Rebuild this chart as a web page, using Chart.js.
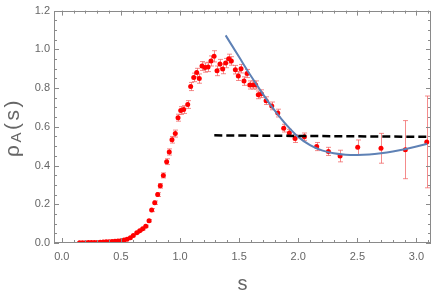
<!DOCTYPE html>
<html>
<head>
<meta charset="utf-8">
<script src="https://cdn.jsdelivr.net/npm/chart.js@4"></script>
<style>
html,body{margin:0;padding:0;background:#fff;}
#wrap{width:436px;height:298px;position:relative;}
</style>
</head>
<body>
<div id="wrap"><canvas id="c" width="436" height="298"></canvas></div>
<script>
// ---- data ----
const sVals = [0.15,0.175,0.2,0.225,0.25,0.275,0.3,0.325,0.35,0.375,0.4,0.425,0.45,0.475,0.5,0.527,0.552,0.58,0.605,0.634,0.659,0.684,0.71,0.738,0.76,0.786,0.811,0.833,0.859,0.887,0.909,0.932,0.96,0.983,1.006,1.031,1.065,1.09,1.116,1.141,1.163,1.186,1.211,1.237,1.262,1.288,1.313,1.338,1.361,1.386,1.412,1.434,1.468,1.493,1.516,1.541,1.567,1.59,1.615,1.64,1.662,1.688,1.728,1.776,1.827,1.877,1.925,1.973,2.052,2.156,2.255,2.354,2.503,2.7,2.906,3.087];
const rhoVals = [0.001,0.001,0.001,0.002,0.002,0.003,0.003,0.004,0.005,0.006,0.007,0.008,0.009,0.010,0.012,0.016,0.020,0.027,0.039,0.053,0.063,0.073,0.087,0.115,0.170,0.208,0.250,0.295,0.349,0.420,0.470,0.533,0.565,0.647,0.684,0.689,0.715,0.808,0.855,0.880,0.849,0.914,0.906,0.909,0.940,0.964,0.889,0.924,0.899,0.929,0.952,0.940,0.895,0.862,0.900,0.836,0.875,0.816,0.816,0.816,0.765,0.771,0.735,0.708,0.671,0.593,0.568,0.539,0.549,0.498,0.473,0.449,0.494,0.489,0.482,0.522];
const rhoErr = [0.001,0.001,0.001,0.001,0.001,0.001,0.001,0.001,0.001,0.001,0.001,0.001,0.001,0.002,0.002,0.002,0.002,0.003,0.003,0.004,0.004,0.005,0.005,0.006,0.008,0.009,0.010,0.012,0.013,0.015,0.016,0.017,0.018,0.018,0.020,0.020,0.020,0.021,0.022,0.022,0.024,0.023,0.024,0.024,0.026,0.029,0.025,0.024,0.025,0.024,0.023,0.022,0.022,0.023,0.022,0.022,0.021,0.021,0.021,0.021,0.020,0.020,0.020,0.020,0.020,0.020,0.019,0.020,0.019,0.021,0.021,0.030,0.038,0.077,0.150,0.237];
const fitS = [1.386,1.5,1.6,1.7,1.8,1.9,2.0,2.1,2.2,2.3,2.4,2.5,2.6,2.7,2.8,2.9,3.0,3.09];
const fitRho = [1.072,0.960,0.862,0.770,0.685,0.610,0.548,0.505,0.478,0.463,0.456,0.455,0.457,0.463,0.472,0.484,0.498,0.512];
const constS = [1.29,3.123];
const constRho = [0.556,0.548];
const xTicks = [0,0.5,1.0,1.5,2.0,2.5,3.0];
const yTicks = [0,0.2,0.4,0.6,0.8,1.0,1.2];

const pts = sVals.map((s,i)=>({x:s,y:rhoVals[i]}));
const fitPts = fitS.map((s,i)=>({x:s,y:fitRho[i]}));
const constPts = constS.map((s,i)=>({x:s,y:constRho[i]}));

const FRAME = '#8a8a8a';
const TXT = '#666666';

const errPlugin = {
  id:'errbars',
  beforeDatasetsDraw(chart){
    const {ctx, scales:{x,y}} = chart;
    ctx.save();
    ctx.beginPath();
    ctx.rect(chart.chartArea.left, chart.chartArea.top, chart.chartArea.right-chart.chartArea.left, chart.chartArea.bottom-chart.chartArea.top);
    ctx.clip();
    ctx.strokeStyle = 'rgba(240,90,90,0.7)';
    ctx.lineWidth = 1;
    sVals.forEach((s,i)=>{
      const e = rhoErr[i];
      if (e < 0.004) return;
      const px = Math.round(x.getPixelForValue(s))+0.5;
      const y1 = y.getPixelForValue(rhoVals[i]-e);
      const y2 = y.getPixelForValue(rhoVals[i]+e);
      ctx.beginPath();
      ctx.moveTo(px,y1); ctx.lineTo(px,y2);
      ctx.moveTo(px-2.5,y1); ctx.lineTo(px+2.5,y1);
      ctx.moveTo(px-2.5,y2); ctx.lineTo(px+2.5,y2);
      ctx.stroke();
    });
    ctx.restore();
  }
};

const framePlugin = {
  id:'frame',
  afterDraw(chart){
    const {ctx, chartArea:a, scales:{x,y}} = chart;
    ctx.save();
    ctx.strokeStyle = FRAME;
    ctx.lineWidth = 1;
    ctx.strokeRect(Math.round(a.left)+0.5, Math.round(a.top)+0.5, Math.round(a.right-a.left)-1, Math.round(a.bottom-a.top)-1);
    ctx.beginPath();
    for (let k=0;k<=31;k++){
      const v = k*0.1;
      const px = Math.round(x.getPixelForValue(v))+0.5;
      const major = (k%5===0);
      const L = major?5:3;
      ctx.moveTo(px,a.bottom); ctx.lineTo(px,a.bottom-L);
      ctx.moveTo(px,a.top); ctx.lineTo(px,a.top+L);
    }
    for (let k=0;k<=24;k++){
      const v = k*0.05;
      const py = Math.round(y.getPixelForValue(v))+0.5;
      const major = (k%4===0);
      const L = major?5:3;
      ctx.moveTo(a.left,py); ctx.lineTo(a.left+L,py);
      ctx.moveTo(a.right,py); ctx.lineTo(a.right-L,py);
    }
    ctx.stroke();
    // y title: rho_A(s)
    ctx.translate(19, 127.5);
    ctx.rotate(-Math.PI/2);
    ctx.fillStyle = TXT;
    ctx.textBaseline = 'alphabetic';
    ctx.textAlign = 'left';
    const big = '21px "Liberation Sans", Arial, sans-serif';
    const small = '15px "Liberation Sans", Arial, sans-serif';
    ctx.letterSpacing = '2.5px';
    ctx.font = big; const w1 = ctx.measureText('ρ').width;
    ctx.font = small; const w2 = ctx.measureText('A').width;
    ctx.font = big; const w3 = ctx.measureText('(s)').width;
    let cx = -(w1+w2+w3)/2;
    ctx.font = big; ctx.fillText('ρ', cx, 0); cx += w1;
    ctx.font = small; ctx.fillText('A', cx, 2); cx += w2;
    ctx.font = big; ctx.fillText('(s)', cx, 0);
    ctx.restore();
  }
};

new Chart(document.getElementById('c'), {
  type:'scatter',
  data:{
    datasets:[
      {label:'data', data:pts, pointRadius:2.5, pointHoverRadius:2.5, backgroundColor:'#ff0000', borderWidth:0, pointBorderWidth:0, showLine:false, order:3},
      {label:'fit', data:fitPts, showLine:true, pointRadius:0, borderColor:'#5e81b5', borderWidth:2, cubicInterpolationMode:'monotone', fill:false, order:2},
      {label:'const', data:constPts, showLine:true, pointRadius:0, borderColor:'#000000', borderWidth:2.5, borderDash:[8,4], fill:false, order:1}
    ]
  },
  options:{
    responsive:false,
    animation:false,
    events:[],
    layout:{padding:{left:0,top:8,right:5,bottom:0}},
    plugins:{legend:{display:false}, tooltip:{enabled:false}},
    scales:{
      x:{
        type:'linear', min:-0.066, max:3.123,
        afterBuildTicks(s){ s.ticks = xTicks.map(v=>({value:v})); },
        afterFit(s){ s.height = 55; },
        grid:{display:false, drawTicks:false},
        border:{display:false},
        ticks:{color:TXT, font:{family:'"Liberation Sans", Arial, sans-serif', size:11}, padding:7, maxRotation:0, callback:(v)=>Number(v).toFixed(1)},
        title:{display:true, text:'s', color:TXT, font:{family:'"Liberation Sans", Arial, sans-serif', size:20}, padding:{top:0,bottom:1.5}}
      },
      y:{
        type:'linear', min:0, max:1.2,
        afterBuildTicks(s){ s.ticks = yTicks.map(v=>({value:v})); },
        afterFit(s){ s.width = 54; },
        grid:{display:false, drawTicks:false},
        border:{display:false},
        ticks:{color:TXT, font:{family:'"Liberation Sans", Arial, sans-serif', size:11}, padding:4, callback:(v)=>Number(v).toFixed(1)}
      }
    }
  },
  plugins:[errPlugin, framePlugin]
});
</script>
</body>
</html>
